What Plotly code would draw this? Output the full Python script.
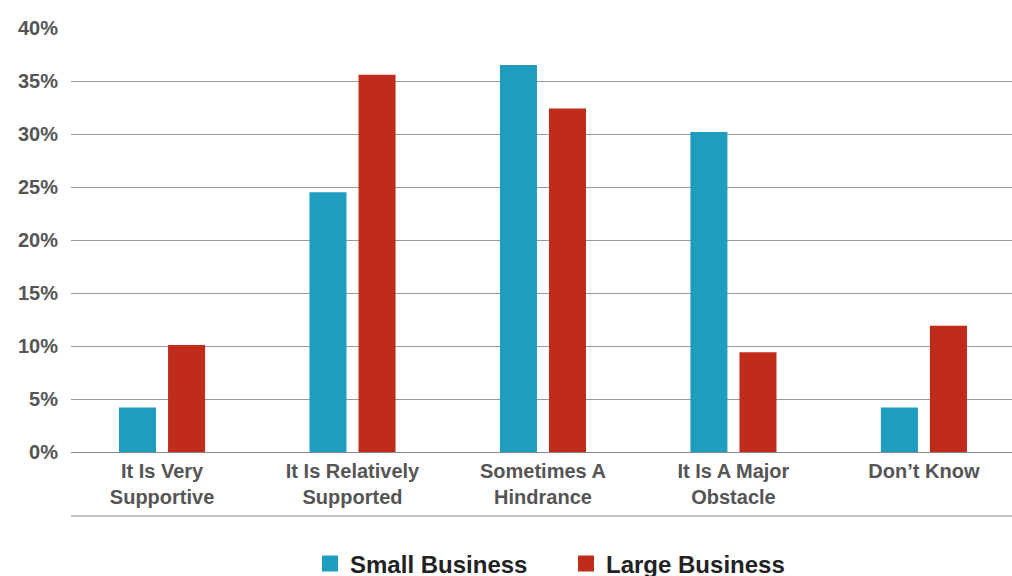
import plotly.graph_objects as go

categories = ["It Is Very<br>Supportive", "It Is Relatively<br>Supported", "Sometimes A<br>Hindrance",
              "It Is A Major<br>Obstacle", "Don’t Know"]
small_business = [4.2, 24.5, 36.5, 30.2, 4.2]
large_business = [10.1, 35.6, 32.4, 9.4, 11.9]
series_names = ["Small Business", "Large Business"]
colors = ["#1F9DBF", "#C02C1A"]
y_ticks = [0, 5, 10, 15, 20, 25, 30, 35, 40]
y_tick_labels = [f"{v}%" for v in y_ticks]

fig = go.Figure()
for name, vals, col in zip(series_names, [small_business, large_business], colors):
    fig.add_trace(go.Bar(x=categories, y=vals, name=name, marker_color=col,
                         marker_line_width=0, showlegend=False))
for name, col in zip(series_names, colors):
    fig.add_trace(go.Scatter(x=[None], y=[None], mode="markers", name=name,
                             marker=dict(symbol="square", size=17, color=col)))

fig.update_layout(
    width=1012, height=576,
    margin=dict(l=71, r=0, t=28, b=124, autoexpand=False),
    plot_bgcolor="white", paper_bgcolor="white",
    barmode="group", bargap=0.485, bargroupgap=0.245,
    font=dict(family="Liberation Sans, Arial, sans-serif"),
    legend=dict(orientation="h", x=0.254, xanchor="left", y=-0.264, yanchor="middle",
                font=dict(size=24, color="#222222", weight="bold"),
                itemsizing="trace", itemwidth=30, tracegroupgap=0,
                entrywidth=211),
    xaxis=dict(showgrid=False, showline=False, ticks="", range=[-0.478, 4.4625],
               ticklabelstandoff=5,
               tickfont=dict(size=20, color="#555555", weight="bold")),
    yaxis=dict(range=[0, 40], tickvals=y_ticks, ticktext=y_tick_labels,
               showgrid=True, gridcolor="#999999", gridwidth=1,
               zeroline=True, zerolinecolor="#888888", zerolinewidth=1,
               showline=False, ticks="", ticklabelstandoff=12,
               tickfont=dict(size=20, color="#555555", weight="bold")),
    shapes=[dict(type="line", xref="paper", yref="paper", x0=0, x1=1, y0=-0.151, y1=-0.151,
                 line=dict(color="#C4C4C4", width=2))],
)

fig.write_html("out.html")
